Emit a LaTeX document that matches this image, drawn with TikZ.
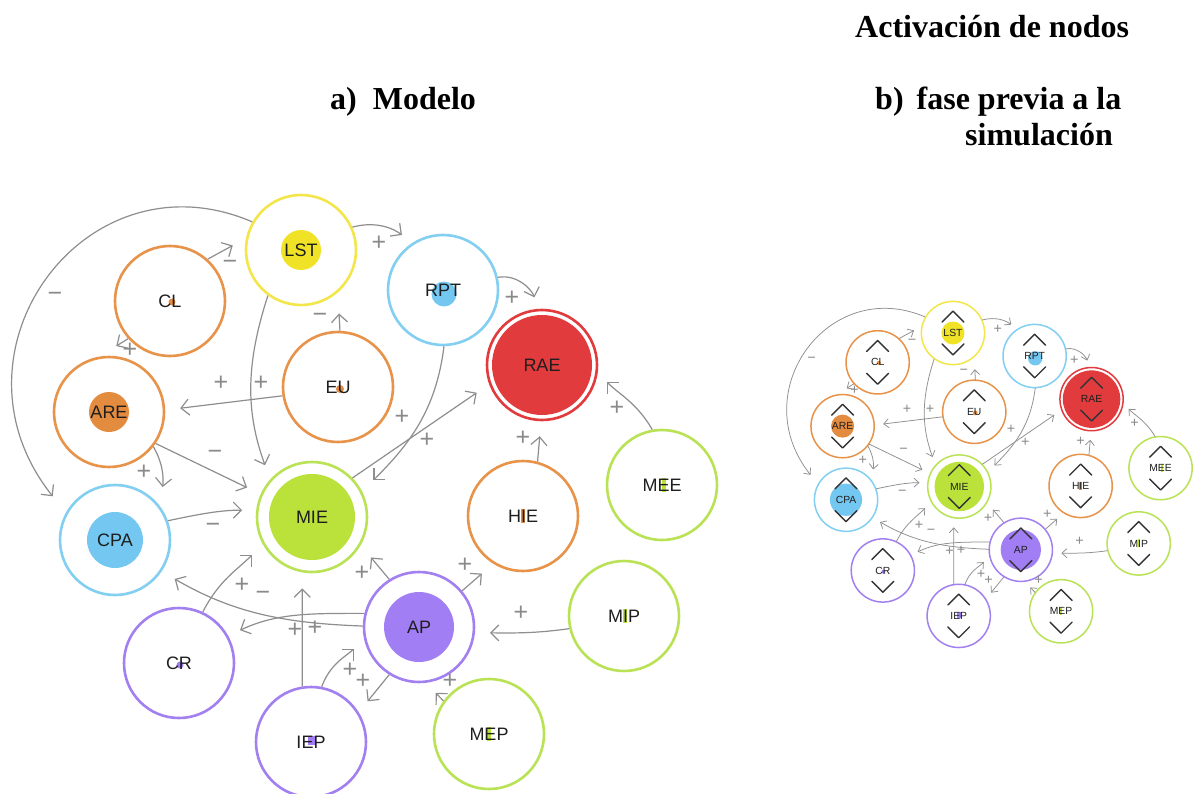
\documentclass[tikz,border=0pt]{standalone}
\usepackage{fontspec}
\setmainfont{Liberation Serif}
\newfontfamily\nodefont{Liberation Sans}
\usetikzlibrary{arrows.meta}
\definecolor{cOr}{HTML}{E8934A}
\definecolor{cOrF}{HTML}{E38B3E}
\definecolor{cYe}{HTML}{F2E64A}
\definecolor{cYeF}{HTML}{F0E227}
\definecolor{cBl}{HTML}{82CFF2}
\definecolor{cBlF}{HTML}{74C7F0}
\definecolor{cRe}{HTML}{E23B3E}
\definecolor{cGr}{HTML}{B9E255}
\definecolor{cGrF}{HTML}{BAE23A}
\definecolor{cPu}{HTML}{A380F0}
\definecolor{cPuF}{HTML}{A27EF5}
\definecolor{cEd}{HTML}{8E8E8E}
\definecolor{cSg}{HTML}{8A8A8A}
\definecolor{cTx}{HTML}{1E1E1E}
\definecolor{cCh}{HTML}{333333}
\newif\ifchev
\def\sc{1}
\def\rw{2.6pt}
\newcommand\nd[5]{%
  \node[ring,draw=#4] (#1) at (#2,#3) {#5};
  \ifchev
    \draw[chevst] (#2-19,#3-19) -- (#2,#3-38) -- (#2+19,#3-19);
    \draw[chevst] (#2-19,#3+19) -- (#2,#3+38) -- (#2+19,#3+19);
  \fi}
\newcommand\netw{%
  % inner fills
  \fill[cYeF] (301,250) circle[radius=20];
  \fill[cOrF] (172,302) circle[radius=3.5];
  \fill[cOrF] (340,389) circle[radius=4];
  \fill[cOrF] (109,412) circle[radius=20];
  \fill[cBlF] (444,294) circle[radius=12.5];
  \fill[cRe] (542,365) circle[radius=50];
  \fill[cGrF] (312,517) circle[radius=43];
  \fill[cBlF] (115,540) circle[radius=28];
  \fill[cPuF] (180,665) circle[radius=3.5];
  \fill[cPuF] (308,736) rectangle (316,745);
  \fill[cPuF] (419,627) circle[radius=35];
  \fill[cOrF] (521,509) rectangle (525,523);
  \fill[cGrF] (662,478) rectangle (666,492);
  \fill[cGrF] (623,609) rectangle (627,623);
  \fill[cGrF] (487,727) rectangle (491,741);
  % nodes
  \nd{LST}{301}{250}{cYe}{LST}
  \nd{CL}{170}{301}{cOr}{CL}
  \nd{EU}{338}{387}{cOr}{EU}
  \nd{ARE}{109}{412}{cOr}{ARE}
  \nd{RPT}{443}{290}{cBl}{RPT}
  \nd{RAE}{542}{365}{cRe}{RAE}
  \nd{MIE}{312}{517}{cGr}{MIE}
  \nd{CPA}{115}{540}{cBl}{CPA}
  \nd{CR}{179}{663}{cPu}{CR}
  \nd{IEP}{311}{742}{cPu}{IEP}
  \nd{AP}{419}{627}{cPu}{AP}
  \nd{HIE}{523}{516}{cOr}{HIE}
  \nd{MEE}{662}{485}{cGr}{MEE}
  \nd{MIP}{624}{616}{cGr}{MIP}
  \nd{MEP}{489}{734}{cGr}{MEP}
  % connectors
  \draw[edge,gap=21] (LST.150) .. controls (85,150) and (-62,352) .. (CPA.151);
  \draw[edge,gap=15] (CL.48) -- (LST.168);
  \draw[edge,gap=20] (CL.222) -- (ARE.100);
  \draw[edge,gap=15] (LST.234) to[out=252,in=110] (MIE.138);
  \draw[edge,gap=15] (EU.189) -- (ARE.2);
  \draw[edge,gap=21] (EU.88) -- (LST.-49);
  \draw[edge,gap=13] (LST.24) to[out=15,in=143] (RPT.123);
  \draw[edge,gap=12] (RPT.13) to[out=10,in=108] (RAE.94);
  \draw[edge,gap=16] (RPT.-89) to[out=-97,in=45] (MIE.27);
  \draw[edge,gap=15] (MIE.44) -- (RAE.200);
  \draw[edge,gap=15] (ARE.-34) -- (MIE.156);
  \draw[edge,gap=20] (ARE.-38) to[out=-60,in=84] (CPA.36);
  \draw[edge,gap=14] (CPA.20) to[out=12,in=180] (MIE.173);
  \draw[edge,gap=15] (CR.65) to[out=63,in=225] (MIE.209);
  \draw[edge,gap=15] (AP.179) to[out=178,in=-30] (CPA.-34);
  \draw[edge,gap=13] (AP.166) to[out=180,in=25] (CR.29);
  \draw[edge,gap=16] (IEP.99) -- (MIE.260);
  \draw[edge,gap=14] (IEP.79) to[out=70,in=225] (AP.192);
  \draw[edge,gap=14] (AP.238) -- (IEP.32);
  \draw[edge,gap=16] (AP.122) -- (MIE.-30);
  \draw[edge,gap=15] (AP.40) -- (HIE.238);
  \draw[edge,gap=15] (MIP.193) to[out=188,in=0] (AP.-6);
  \draw[edge,gap=14] (MEP.144) -- (AP.-83);
  \draw[edge,gap=15] (HIE.75) -- (RAE.-91);
  \draw[edge,gap=13] (MEE.100) to[out=120,in=-45] (RAE.-8);
  % signs
  \node[sgn] (s1) at (55,297) {−};
  \node[sgn] (s2) at (230,265) {−};
  \node[sgn] (s3) at (379,243) {+};
  \node[sgn] (s4) at (512,298) {+};
  \node[sgn] (s5) at (320,318) {−};
  \node[sgn] (s6) at (130,350) {+};
  \node[sgn] (s7) at (221,383) {+};
  \node[sgn] (s8) at (261,383) {+};
  \node[sgn] (s9) at (402,417) {+};
  \node[sgn] (s10) at (427,440) {+};
  \node[sgn] (s11) at (523,438) {+};
  \node[sgn] (s12) at (617,408) {+};
  \node[sgn] (s13) at (215,455) {−};
  \node[sgn] (s14) at (144,472) {+};
  \node[sgn] (s15) at (213,528) {−};
  \node[sgn] (s16) at (242,585) {+};
  \node[sgn] (s17) at (263,596) {−};
  \node[sgn] (s18) at (362,573) {+};
  \node[sgn] (s19) at (465,565) {+};
  \node[sgn] (s20) at (521,613) {+};
  \node[sgn] (s21) at (295,630) {+};
  \node[sgn] (s22) at (315,628) {+};
  \node[sgn] (s23) at (350,670) {+};
  \node[sgn] (s24) at (363,681) {+};
  \node[sgn] (s25) at (450,681) {+};
}
\begin{document}
\begin{tikzpicture}[x=1pt,y=-1pt,
  ring/.style={circle, minimum size=110, inner sep=0pt, line width=\rw, text=cTx,
    font=\nodefont\fontsize{18}{18}\selectfont},
  edge/.style={draw=cEd, line width=1.2pt, -{Straight Barb[length=8pt,width=16pt]}},
  gap/.style={shorten >=#1*\sc},
  sgn/.style={text=cSg, inner sep=0pt, font=\nodefont\fontsize{25}{25}\selectfont},
  chevst/.style={draw=cCh, line width=1.4pt, line join=round, line cap=round},
  ttl/.style={font=\fontsize{32}{32}\selectfont\bfseries, inner sep=0pt, text=black}]
\useasboundingbox (0,0) rectangle (1193,794);
\fill[white] (0,0) rectangle (1193,794);
\node[ttl, anchor=base west] (t1) at (855,38) {Activación de nodos};
\node[ttl, anchor=base west] (t2) at (330,110) {a)\hspace{16pt}Modelo};
\node[ttl, anchor=base west] (t3) at (875,110) {b)\hspace{13pt}fase previa a la};
\node[ttl, anchor=base west] (t4) at (965,146) {simulación};
\chevfalse
\netw
\begin{scope}[shift={(779.9,189.25)}, scale=0.575, transform shape, name prefix=r-,
  edge/.style={draw=cEd, line width=0.75pt, -{Straight Barb[length=5pt,width=9pt]}}]
  \def\sc{0.575}
  \def\rw{1.5pt}
  \chevtrue
  \netw
\end{scope}
\end{tikzpicture}
\end{document}
